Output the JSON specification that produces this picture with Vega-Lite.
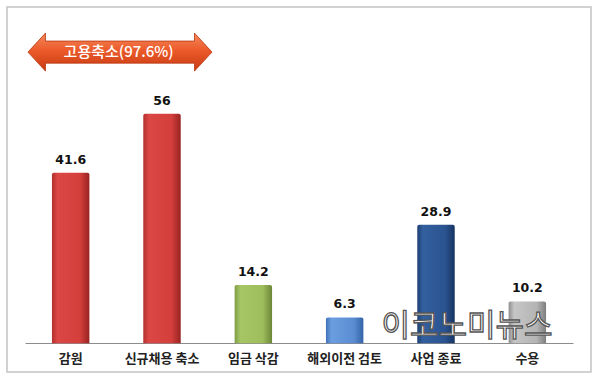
{
  "$schema": "https://vega.github.io/schema/vega-lite/v6.json",
  "width": 584,
  "height": 365,
  "autosize": {"type": "none"},
  "padding": {"left": 7, "top": 7, "right": 9, "bottom": 13},
  "background": "white",
  "config": {
    "view": {"stroke": "#c4c4c4", "strokeWidth": 1.5},
    "font": "Noto Sans CJK KR"
  },
  "data": {
    "values": [
      {"item": "감원", "value": 41.6},
      {"item": "신규채용 축소", "value": 56},
      {"item": "임금 삭감", "value": 14.2},
      {"item": "해외이전 검토", "value": 6.3},
      {"item": "사업 종료", "value": 28.9},
      {"item": "수용", "value": 10.2}
    ]
  },
  "layer": [
    {
      "encoding": {
        "x": {
          "field": "item",
          "type": "nominal",
          "sort": null,
          "scale": {
            "domain": ["감원", "신규채용 축소", "임금 삭감", "해외이전 검토", "사업 종료", "수용"],
            "range": [18, 566],
            "paddingInner": 0.59,
            "paddingOuter": 0.295
          },
          "axis": {
            "title": null,
            "labelAngle": 0,
            "ticks": false,
            "offset": -29,
            "domainColor": "#8c8c8c",
            "domainWidth": 1,
            "labelFont": "Noto Sans CJK KR",
            "labelFontSize": 13,
            "labelFontWeight": "bold",
            "labelColor": "#222222",
            "labelPadding": 9,
            "grid": false
          }
        },
        "y": {
          "field": "value",
          "type": "quantitative",
          "scale": {"domain": [-7, 82], "nice": false, "zero": false},
          "axis": null
        }
      },
      "layer": [
        {
          "transform": [{"filter": {"field": "item", "oneOf": ["감원", "신규채용 축소"]}}],
          "mark": {"type": "bar", "cornerRadiusTopLeft": 2, "cornerRadiusTopRight": 2,
            "color": {"gradient": "linear", "x1": 0, "y1": 0, "x2": 1, "y2": 0,
              "stops": [{"offset": 0, "color": "#b3302d"}, {"offset": 0.15, "color": "#db4744"}, {"offset": 0.75, "color": "#d43f3c"}, {"offset": 1, "color": "#982321"}]}},
          "encoding": {"y2": {"datum": 0}}
        },
        {
          "transform": [{"filter": {"field": "item", "equal": "임금 삭감"}}],
          "mark": {"type": "bar", "cornerRadiusTopLeft": 2, "cornerRadiusTopRight": 2,
            "color": {"gradient": "linear", "x1": 0, "y1": 0, "x2": 1, "y2": 0,
              "stops": [{"offset": 0, "color": "#7f9c45"}, {"offset": 0.15, "color": "#a6c665"}, {"offset": 0.75, "color": "#9ebd5c"}, {"offset": 1, "color": "#6c8738"}]}},
          "encoding": {"y2": {"datum": 0}}
        },
        {
          "transform": [{"filter": {"field": "item", "equal": "해외이전 검토"}}],
          "mark": {"type": "bar", "cornerRadiusTopLeft": 2, "cornerRadiusTopRight": 2,
            "color": {"gradient": "linear", "x1": 0, "y1": 0, "x2": 1, "y2": 0,
              "stops": [{"offset": 0, "color": "#3f72b8"}, {"offset": 0.15, "color": "#6b9de0"}, {"offset": 0.75, "color": "#5a8cd2"}, {"offset": 1, "color": "#3463a6"}]}},
          "encoding": {"y2": {"datum": 0}}
        },
        {
          "transform": [{"filter": {"field": "item", "equal": "사업 종료"}}],
          "mark": {"type": "bar", "cornerRadiusTopLeft": 2, "cornerRadiusTopRight": 2,
            "color": {"gradient": "linear", "x1": 0, "y1": 0, "x2": 1, "y2": 0,
              "stops": [{"offset": 0, "color": "#1d3f73"}, {"offset": 0.15, "color": "#33609f"}, {"offset": 0.75, "color": "#2a5390"}, {"offset": 1, "color": "#163360"}]}},
          "encoding": {"y2": {"datum": 0}}
        },
        {
          "transform": [{"filter": {"field": "item", "equal": "수용"}}],
          "mark": {"type": "bar", "cornerRadiusTopLeft": 2, "cornerRadiusTopRight": 2,
            "color": {"gradient": "linear", "x1": 0, "y1": 0, "x2": 1, "y2": 0,
              "stops": [{"offset": 0, "color": "#8e8e8e"}, {"offset": 0.15, "color": "#c6c6c6"}, {"offset": 0.75, "color": "#b4b4b4"}, {"offset": 1, "color": "#7e7e7e"}]}},
          "encoding": {"y2": {"datum": 0}}
        },
        {
          "mark": {"type": "text", "baseline": "bottom", "dy": -6, "font": "DejaVu Sans", "fontWeight": "bold", "fontSize": 12.5, "color": "#111111"},
          "encoding": {"text": {"field": "value", "type": "quantitative", "format": ".3~"}}
        }
      ]
    },
    {
      "data": {"values": [{"label": "고용축소(97.6%)"}]},
      "mark": {
        "type": "point",
        "filled": true,
        "size": 33856,
        "shape": "M -0.464 0 L -0.274 -0.2065 L -0.274 -0.12 L 1.346 -0.12 L 1.346 -0.2065 L 1.536 0 L 1.346 0.2065 L 1.346 0.12 L -0.274 0.12 L -0.274 0.2065 Z",
        "opacity": 1,
        "stroke": "#b8330f",
        "strokeWidth": 0.8,
        "fill": {"gradient": "linear", "x1": 0, "y1": 0, "x2": 0, "y2": 1,
          "stops": [{"offset": 0, "color": "#f58a5e"}, {"offset": 0.45, "color": "#ec5a2a"}, {"offset": 1, "color": "#c63a12"}]}
      },
      "encoding": {
        "x": {"datum": "감원", "type": "nominal"},
        "y": {"datum": 71, "type": "quantitative"}
      }
    },
    {
      "data": {"values": [{"label": "고용축소(97.6%)"}]},
      "mark": {"type": "text", "dx": 48, "fontSize": 15, "fontWeight": 500, "font": "Noto Sans CJK KR", "color": "white", "baseline": "middle", "align": "center"},
      "encoding": {
        "x": {"datum": "감원", "type": "nominal"},
        "y": {"datum": 71, "type": "quantitative"},
        "text": {"field": "label"}
      }
    },
    {
      "data": {"values": [{"label": "이코노미뉴스"}]},
      "mark": {"type": "text", "dx": 31, "fontSize": 31, "font": "Noto Sans CJK KR", "fill": "white", "stroke": "#555555", "strokeWidth": 1.3, "baseline": "middle", "align": "center"},
      "encoding": {
        "x": {"datum": "사업 종료", "type": "nominal"},
        "y": {"datum": 4, "type": "quantitative"},
        "text": {"field": "label"}
      }
    }
  ]
}
